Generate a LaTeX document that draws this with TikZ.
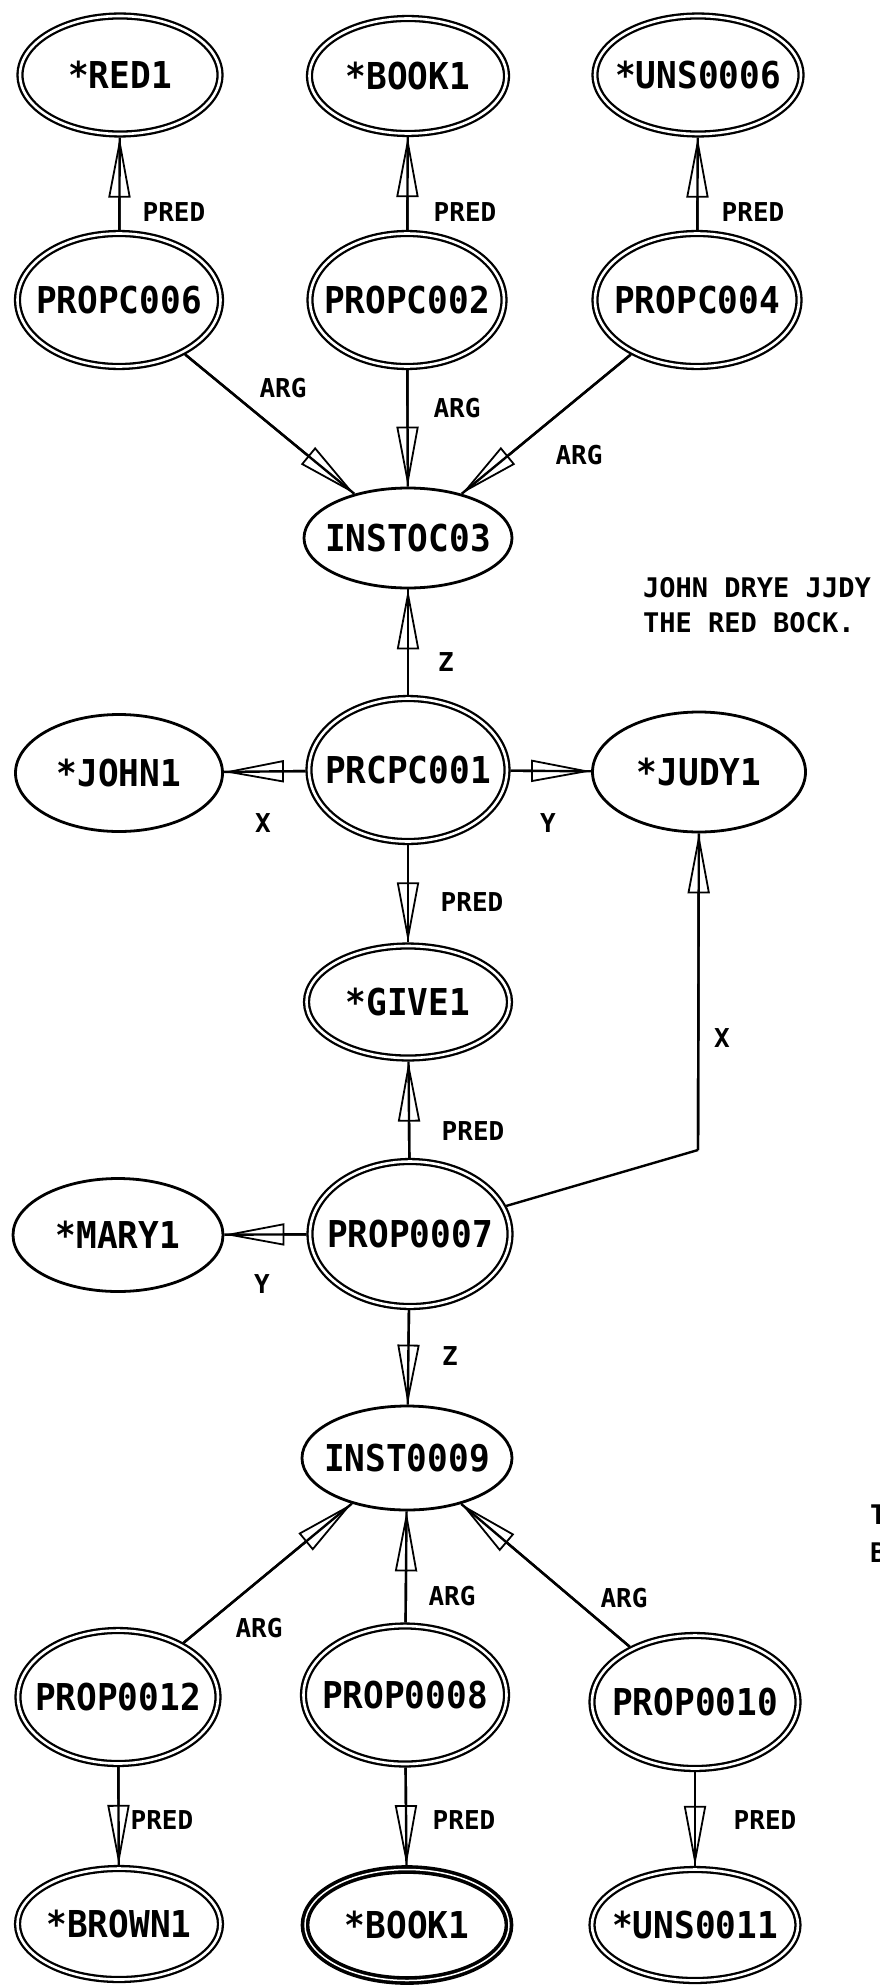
\documentclass[tikz,border=0pt]{standalone}
\usepackage{fontspec}
\usetikzlibrary{shapes.geometric, arrows.meta}
\newfontfamily\nodefont[FakeStretch=0.93]{DejaVu Sans Mono}
\newfontfamily\labfont{DejaVu Sans Mono}
\newcommand\zb[1]{\makebox[0pt][c]{#1}}
\newcommand\cnx[2]{\draw[con] (#1) -- (#2); \draw[arr] (#1) -- (#2);}
\begin{document}
\begin{tikzpicture}[x=1pt,y=-1pt,
 base/.style={ellipse, inner sep=0pt, font=\nodefont\bfseries\fontsize{37}{40}\selectfont},
 sgl/.style={base, draw, line width=2.8pt, outer sep=1.4pt},
 dbl/.style={base, draw, line width=2.3pt, double=white, double distance=2.6pt, outer sep=3.6pt},
 hvy/.style={base, draw, line width=3.6pt, double=white, double distance=1.5pt, outer sep=4.4pt},
 con/.style={line width=2.4pt},
 arr/.style={con, -{Triangle[open, length=60pt, width=22pt, line width=1.8pt]}},
 lab/.style={inner sep=0pt, font=\labfont\bfseries\fontsize{26}{28}\selectfont},
 txt/.style={inner sep=0pt, anchor=west, font=\labfont\bfseries\fontsize{27}{29}\selectfont},
]
\fill[white] (0,0) rectangle (879,1985);
\useasboundingbox (0,0) rectangle (879,1985);

% top row
\node[dbl, minimum width=200pt, minimum height=118pt] (red1) at (120,75) {\zb{*RED1}};
\node[dbl, minimum width=197pt, minimum height=115pt] (book1) at (408,76) {\zb{*BOOK1}};
\node[dbl, minimum width=206pt, minimum height=118pt] (uns6) at (698,75) {\zb{*UNS0006}};
% second row
\node[dbl, minimum width=203pt, minimum height=133pt] (p6) at (119,300) {\zb{PROPC006}};
\node[dbl, minimum width=194pt, minimum height=133pt] (p2) at (407,300) {\zb{PROPC002}};
\node[dbl, minimum width=204pt, minimum height=133pt] (p4) at (697,300) {\zb{PROPC004}};
% inst3
\node[sgl, minimum width=208pt, minimum height=100pt] (inst3) at (408,538) {\zb{INSTOC03}};
% p1 row
\node[sgl, minimum width=207pt, minimum height=117pt] (john) at (119,773) {\zb{*JOHN1}};
\node[dbl, minimum width=198pt, minimum height=143pt] (p1) at (408,770) {\zb{PRCPC001}};
\node[sgl, minimum width=213pt, minimum height=120pt] (judy) at (699,772) {\zb{*JUDY1}};
% give
\node[dbl, minimum width=203pt, minimum height=112pt] (give) at (408,1002) {\zb{*GIVE1}};
% p7 row
\node[sgl, minimum width=210pt, minimum height=113pt] (mary) at (118,1235) {\zb{*MARY1}};
\node[dbl, minimum width=200pt, minimum height=145pt] (p7) at (410,1234) {\zb{PROP0007}};
% inst9
\node[sgl, minimum width=210pt, minimum height=104pt] (inst9) at (407,1458) {\zb{INST0009}};
% bottom props
\node[dbl, minimum width=200pt, minimum height=133pt] (p12) at (118,1697) {\zb{PROP0012}};
\node[dbl, minimum width=203pt, minimum height=138pt] (p8) at (405,1695) {\zb{PROP0008}};
\node[dbl, minimum width=206pt, minimum height=133pt] (p10) at (695,1702) {\zb{PROP0010}};
% bottom row
\node[dbl, minimum width=203pt, minimum height=111pt] (brown) at (119,1924) {\zb{*BROWN1}};
\node[hvy, minimum width=204pt, minimum height=111pt] (bbook) at (407,1925) {\zb{*BOOK1}};
\node[dbl, minimum width=206pt, minimum height=111pt] (uns11) at (695,1925) {\zb{*UNS0011}};

\coordinate (k) at (698,1150);

% connectors
\cnx{p6}{red1}
\cnx{p2}{book1}
\cnx{p4}{uns6}
\cnx{p6}{inst3}
\cnx{p2}{inst3}
\cnx{p4}{inst3}
\cnx{p1}{inst3}
\cnx{p1}{john}
\cnx{p1}{judy}
\cnx{p1}{give}
\cnx{p7}{give}
\cnx{p7}{mary}
\draw[con] (p7) -- (k);
\cnx{k}{judy}
\cnx{p7}{inst9}
\cnx{p12}{inst9}
\cnx{p8}{inst9}
\cnx{p10}{inst9}
\cnx{p12}{brown}
\cnx{p8}{bbook}
\cnx{p10}{uns11}

% labels
\node[lab] (l1) at (174,212) {PRED};
\node[lab] (l2) at (465,212) {PRED};
\node[lab] (l3) at (753,212) {PRED};
\node[lab] (l4) at (283,388) {ARG};
\node[lab] (l5) at (457,408) {ARG};
\node[lab] (l6) at (579,455) {ARG};
\node[lab] (l7) at (446,662) {Z};
\node[lab] (l8) at (263,823) {X};
\node[lab] (l9) at (548,823) {Y};
\node[lab] (l10) at (472,902) {PRED};
\node[lab] (l11) at (473,1131) {PRED};
\node[lab] (l12) at (722,1038) {X};
\node[lab] (l13) at (262,1284) {Y};
\node[lab] (l14) at (450,1356) {Z};
\node[lab] (l15) at (259,1628) {ARG};
\node[lab] (l16) at (452,1596) {ARG};
\node[lab] (l17) at (624,1598) {ARG};
\node[lab] (l18) at (162,1820) {PRED};
\node[lab] (l19) at (464,1820) {PRED};
\node[lab] (l20) at (765,1820) {PRED};

% sentence
\node[txt] (s1) at (643,588) {JOHN DRYE JJDY};
\node[txt] (s2) at (643,623) {THE RED BOCK.};

% fragments cut at the right edge
\begin{scope}
\clip (0,0) rectangle (879,1985);
\node[txt] (f1) at (870,1515) {T};
\node[txt] (f2) at (870,1553) {B};
\end{scope}
\end{tikzpicture}
\end{document}
